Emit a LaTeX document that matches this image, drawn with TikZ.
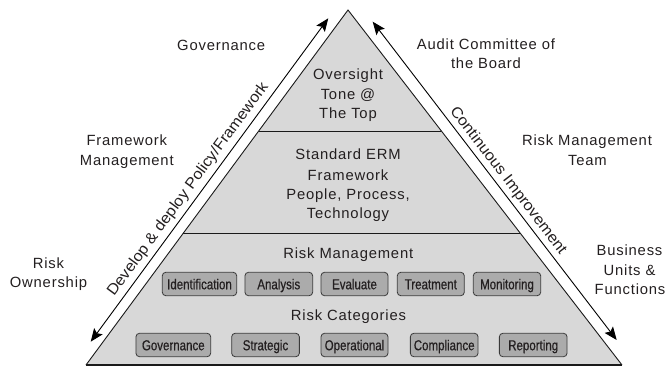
\documentclass[tikz,border=0pt]{standalone}
\usepackage{fontspec}
\setmainfont{Liberation Sans}
\newfontfamily\lbfamily[LetterSpace=5.5]{Liberation Sans}
\newfontfamily\slfamily[FakeStretch=1.07]{Liberation Sans}
\newfontfamily\bxfamily[FakeStretch=0.8,FakeBold=0.5]{Liberation Sans}
\usetikzlibrary{calc,arrows.meta}
\definecolor{trifill}{HTML}{D8D8D8}
\definecolor{boxfill}{HTML}{ABABAB}
\definecolor{boxline}{HTML}{3A3A3A}
\definecolor{txt}{HTML}{231F20}
\definecolor{edgecol}{HTML}{1A1A1A}
\begin{document}
\begin{tikzpicture}[x=1pt,y=-1pt,
  edge/.style={draw=edgecol,line width=0.9pt,line join=miter},
  baseedge/.style={draw=edgecol,line width=1.7pt},
  arr/.style={draw=black,line width=0.9pt,{Stealth[length=13pt,width=10.5pt,inset=2.5pt]}-{Stealth[length=13pt,width=10.5pt,inset=2.5pt]}},
  lbl/.style={font=\lbfamily\fontsize{14.8}{18}\selectfont,text=txt,inner sep=0pt,anchor=base},
  slopetxt/.style={font=\slfamily\fontsize{15.2}{18}\selectfont,text=txt,inner sep=0pt,sloped},
  stepbox/.style={draw=boxline,fill=boxfill,rounded corners=3.5pt,line width=0.8pt,
    font=\bxfamily\fontsize{14.4}{16}\selectfont,text=txt,inner sep=0pt,
    minimum height=23.4pt,text height=12pt,text depth=1.5pt}
]
\useasboundingbox (0,0) rectangle (665,369);
% triangle
\coordinate (BL) at (86,365);
\coordinate (BR) at (622,365);
\coordinate (T) at (348,10);
\fill[trifill] (BL)--(BR)--(T)--cycle;
\coordinate (d1l) at ($(BL)!0.6592!(T)$);
\coordinate (d1r) at ($(BR)!0.6592!(T)$);
\coordinate (d2l) at ($(BL)!0.3718!(T)$);
\coordinate (d2r) at ($(BR)!0.3718!(T)$);
\draw[edge] (d1l)--(d1r);
\draw[edge] (d2l)--(d2r);
\draw[edge] (BL)--(T)--(BR);
\draw[baseedge] (BL)--(BR);
% arrows
\coordinate (la1) at (90.7,341.7);
\coordinate (la2) at (328.3,18.3);
\coordinate (ra1) at (372.7,21.7);
\coordinate (ra2) at (616.7,340);
\draw[arr] (la1) -- node[slopetxt,pos=0.45,above=4pt] (ltxt) {Develop \& deploy Policy/Framework} (la2);
\draw[arr] (ra1) -- node[slopetxt,pos=0.52,above=3pt] (rtxt) {Continuous Improvement} (ra2);
% outside labels
\node[lbl] (gov) at (221.2,50.7) {Governance};
\node[lbl] (fm1) at (126.8,146) {Framework};
\node[lbl] (fm2) at (126.8,165) {Management};
\node[lbl] (ro1) at (48.5,268) {Risk};
\node[lbl] (ro2) at (48.5,287) {Ownership};
\node[lbl] (ac1) at (486,50) {Audit Committee of};
\node[lbl] (ac2) at (486,68.5) {the Board};
\node[lbl] (rm1) at (587,146) {Risk Management};
\node[lbl] (rm2) at (587.5,165) {Team};
\node[lbl] (bu1) at (629.5,255) {Business};
\node[lbl] (bu2) at (629.5,275) {Units \&};
\node[lbl] (bu3) at (630,294) {Functions};
% inside labels
\node[lbl] (ov1) at (348,80) {Oversight};
\node[lbl] (ov2) at (348,99.5) {Tone @};
\node[lbl] (ov3) at (348,119) {The Top};
\node[lbl] (st1) at (348,160) {Standard ERM};
\node[lbl] (st2) at (348,180) {Framework};
\node[lbl] (st3) at (348,199.3) {People, Process,};
\node[lbl] (st4) at (348,218.3) {Technology};
\node[lbl] (rmi) at (348.3,258.3) {Risk Management};
\node[lbl] (rci) at (348.5,320) {Risk Categories};
% boxes row 1
\node[stepbox,minimum width=74.4pt] (b11) at (199.5,284) {Identification};
\node[stepbox,minimum width=67.7pt] (b12) at (278.8,284) {Analysis};
\node[stepbox,minimum width=67pt] (b13) at (354.5,284) {Evaluate};
\node[stepbox,minimum width=67pt] (b14) at (430.8,284) {Treatment};
\node[stepbox,minimum width=67.4pt] (b15) at (507,284) {Monitoring};
% boxes row 2
\node[stepbox,minimum width=74.7pt] (b21) at (173.3,345) {Governance};
\node[stepbox,minimum width=67.7pt] (b22) at (265.5,345) {Strategic};
\node[stepbox,minimum width=67pt] (b23) at (354.5,345) {Operational};
\node[stepbox,minimum width=67.7pt] (b24) at (444.2,345) {Compliance};
\node[stepbox,minimum width=67.7pt] (b25) at (533.2,345) {Reporting};
\end{tikzpicture}
\end{document}
